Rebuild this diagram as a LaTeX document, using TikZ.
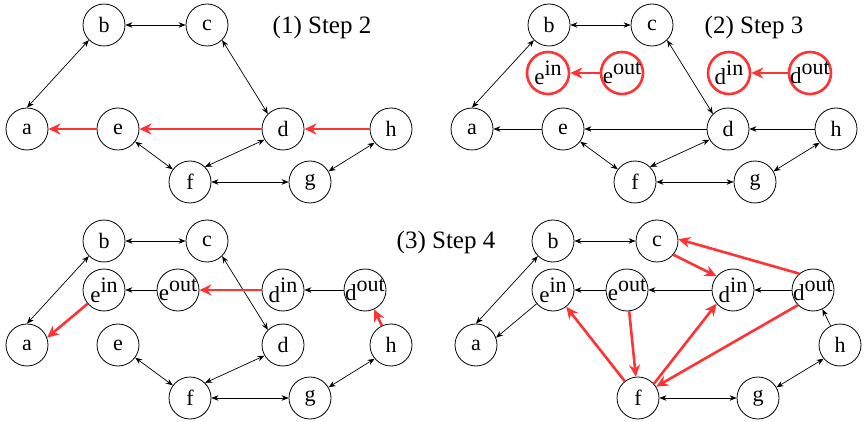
\documentclass[tikz,border=0pt]{standalone}
\usepackage{fontspec}
\setmainfont{Liberation Serif}
\usepackage{tikz}
\usetikzlibrary{arrows.meta}
\definecolor{hotred}{HTML}{FF3333}

% split vertex label: letter with raised part
\newcommand{\splitlbl}[2]{\makebox[0pt]{\fontsize{23}{23}\selectfont #1\raisebox{0.42em}{\fontsize{22}{22}\selectfont #2}}}

\tikzset{
  vtx/.style={circle,draw,line width=0.8pt,minimum size=42pt,inner sep=0pt,font=\fontsize{22}{22}\selectfont},
  redvtx/.style={vtx,draw=hotred,line width=2.6pt},
  biarr/.style={{Stealth[length=7pt,width=5.5pt]}-{Stealth[length=7pt,width=5.5pt]},line width=0.7pt},
  onearr/.style={-{Stealth[length=7pt,width=5.5pt]},line width=0.7pt},
  hotarr/.style={-{Stealth[length=12pt,width=11pt]},line width=2.6pt,hotred},
  title/.style={font=\fontsize{25}{25}\selectfont}
}

\begin{document}
\begin{tikzpicture}[x=1pt,y=-1pt]
\useasboundingbox (0,0) rectangle (865,422);

% (1) Step 2
\foreach \n/\x/\y in {a/27/129,b/104/25,c/207/25,d/283/129,e/118/129,f/190/182,g/310/182,h/391/129}
    \node[vtx] (\n1) at (\x,\y) {\n};
\node[title] (t1) at (322,27) {(1) Step 2};

% (2) Step 3
\begin{scope}[shift={(445,0)}]
\foreach \n/\x/\y in {a/27/129,b/104/25,c/207/25,d/283/129,e/118/129,f/190/182,g/310/182,h/391/129}
    \node[vtx] (\n2) at (\x,\y) {\n};
\node[redvtx] (ein2) at (103,73) {\splitlbl{e}{in}};
\node[redvtx] (eout2) at (177,73) {\splitlbl{e}{out}};
\node[redvtx] (din2) at (284,73) {\splitlbl{d}{in}};
\node[redvtx] (dout2) at (365,73) {\splitlbl{d}{out}};
\end{scope}
\node[title] (t2) at (754,27) {(2) Step 3};

% (3) Step 4
\begin{scope}[shift={(0,216)}]
\foreach \n/\x/\y in {a/27/129,b/104/25,c/207/25,d/283/129,e/118/129,f/190/182,g/310/182,h/391/129}
    \node[vtx] (\n3) at (\x,\y) {\n};
\node[vtx] (ein3) at (104,74) {\splitlbl{e}{in}};
\node[vtx] (eout3) at (178,74) {\splitlbl{e}{out}};
\node[vtx] (din3) at (283,74) {\splitlbl{d}{in}};
\node[vtx] (dout3) at (365,74) {\splitlbl{d}{out}};
\end{scope}
\node[title] (t3) at (446,242) {(3) Step 4};

% result
\begin{scope}[shift={(449,216)}]
\foreach \n/\x/\y in {a/27/129,b/104/25,c/208/25,f/189/182,g/309/182,h/391/129}
    \node[vtx] (\n4) at (\x,\y) {\n};
\node[vtx] (ein4) at (104,74) {\splitlbl{e}{in}};
\node[vtx] (eout4) at (178,74) {\splitlbl{e}{out}};
\node[vtx] (din4) at (284,74) {\splitlbl{d}{in}};
\node[vtx] (dout4) at (364,74) {\splitlbl{d}{out}};
\end{scope}

% edges kept in every panel
\foreach \p in {1,2,3,4}{
    \draw[biarr] (b\p) -- (c\p);
    \draw[biarr] (a\p.north) -- (b\p.south west);
    \draw[biarr] (f\p) -- (g\p);
    \draw[biarr] (g\p.30) -- (h\p.220);
}
\foreach \p in {1,2,3}{
    \draw[biarr] (c\p.south east) -- (d\p.north west);
    \draw[biarr] (e\p) -- (f\p);
    \draw[biarr] (f\p.north east) -- (d\p.210);
}

% path h-d-e-a
\draw[hotarr] (h1) -- (d1);
\draw[hotarr] (d1) -- (e1);
\draw[hotarr] (e1) -- (a1);
\draw[onearr] (h2) -- (d2);
\draw[onearr] (d2) -- (e2);
\draw[onearr] (e2) -- (a2);
\draw[hotarr] (eout2) -- (ein2);
\draw[hotarr] (dout2) -- (din2);

\draw[onearr] (eout3) -- (ein3);
\draw[onearr] (dout3) -- (din3);
\draw[hotarr] (din3) -- (eout3);
\draw[hotarr] (h3) -- (dout3);
\draw[hotarr] (ein3.220) -- (a3.20);

\draw[onearr] (eout4) -- (ein4);
\draw[onearr] (din4) -- (eout4);
\draw[onearr] (dout4) -- (din4);
\draw[onearr] (h4) -- (dout4);
\draw[onearr] (ein4.220) -- (a4.20);
\draw[hotarr] (dout4.130) -- (c4.5);
\draw[hotarr] (c4.-40) -- (din4.140);
\draw[hotarr] (eout4) -- (f4);
\draw[hotarr] (f4) -- (ein4);
\draw[hotarr] (f4.42) -- (din4.220);
\draw[hotarr] (dout4.225) -- (f4.32);
\end{tikzpicture}
\end{document}
